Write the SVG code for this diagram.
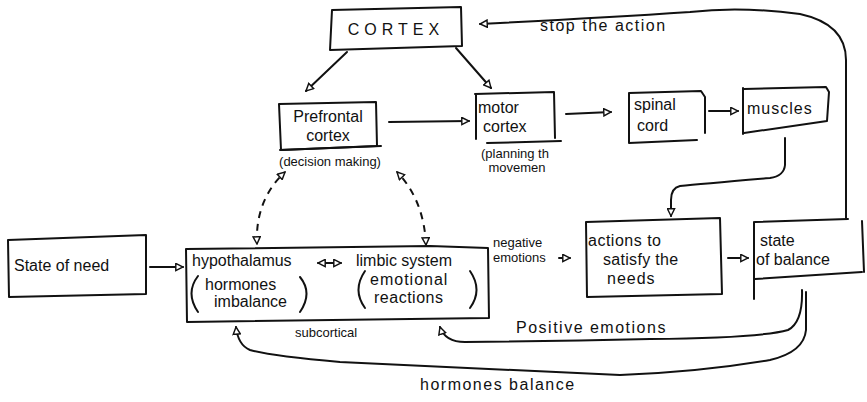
<svg xmlns="http://www.w3.org/2000/svg" width="867" height="402" viewBox="0 0 867 402">
<style>
.b{fill:none;stroke:#111;stroke-width:2;stroke-linecap:round;stroke-linejoin:round}
.c{fill:none;stroke:#111;stroke-width:2;stroke-linecap:round}
.d{fill:none;stroke:#111;stroke-width:2;stroke-dasharray:7 6}
text{font-family:"Liberation Sans","DejaVu Sans",sans-serif;fill:#111;font-size:16px}
.s{font-size:13px}
</style>
<defs>
<marker id="ah" viewBox="0 0 10 10" refX="9" refY="5" markerWidth="9" markerHeight="9" markerUnits="userSpaceOnUse" orient="auto-start-reverse">
<path d="M1,1 L9,5 L1,9 Z" fill="#fff" stroke="#111" stroke-width="1.6"/>
</marker>
</defs>
<rect width="867" height="402" fill="#fff"/>

<g id="cortex">
<path class="b" d="M332,10 L461,7 L462,46 L330,50 Z"/>
<text x="396" y="35" text-anchor="middle" font-size="22" letter-spacing="5">CORTEX</text>
</g>
<g id="prefrontal">
<path class="b" d="M279,104 L376,102 L377,146 L281,150 Z"/>
<path class="c" d="M280,150 L381,146"/>
<text x="328" y="122" text-anchor="middle">Prefrontal</text>
<text x="328" y="141" text-anchor="middle">cortex</text>
<text x="330" y="166" text-anchor="middle" class="s">(decision making)</text>
</g>
<g id="motor">
<path class="b" d="M475,94 L554,92 L555,138 M476,94 L476,139"/>
<path class="c" d="M487,143 L561,141"/>
<text x="478" y="113">motor</text>
<text x="483" y="132">cortex</text>
<text x="515" y="158" text-anchor="middle" class="s">(planning th</text>
<text x="517" y="172" text-anchor="middle" class="s">movemen</text>
</g>
<g id="spinal">
<path class="b" d="M629,93 L701,91 L705,97 L705,133 M629,93 L629,143 L697,140"/>
<text x="634" y="110">spinal</text>
<text x="637" y="131">cord</text>
</g>
<g id="muscles">
<path class="b" d="M744,89 L826,87 L829,92 L827,121 L744,133 M743,88 L743,134"/>
<text x="747" y="114" letter-spacing="1">muscles</text>
</g>
<g id="need">
<path class="b" d="M8,240 L146,235 L146,294 L9,297 Z"/>
<text x="14" y="271">State of need</text>
</g>
<g id="subcortical">
<path class="b" d="M186,249 L430,246 L488,248 L489,318 L187,322 Z"/>
<text x="192" y="266">hypothalamus</text>
<text x="205" y="290">hormones</text>
<text x="214" y="307">imbalance</text>
<path class="c" d="M198,276 Q185,293 198,312 M300,277 Q313,293 300,312"/>
<text x="356" y="266">limbic system</text>
<text x="370" y="285" letter-spacing="1">emotional</text>
<text x="374" y="303" letter-spacing="0.5">reactions</text>
<path class="c" d="M365,271 Q352,290 365,308 M470,271 Q483,290 470,308"/>
<text x="295" y="337" class="s">subcortical</text>
</g>
<g id="actions">
<path class="b" d="M586,222 L720,218 L722,294 L587,297 Z"/>
<text x="588" y="246" letter-spacing="0.5">actions to</text>
<text x="603" y="265" letter-spacing="0.3">satisfy the</text>
<text x="607" y="284" letter-spacing="1">needs</text>
</g>
<g id="balance">
<path class="b" d="M755,222 L848,219 M754,222 L754,299 M755,279 L862,272 M862,221 L864,272"/>
<text x="760" y="246">state</text>
<text x="756" y="265">of balance</text>
</g>

<g id="connectors">
<path class="c" d="M846,218 L846,60 Q846,24 800,14 Q740,6 690,12 Q600,18 480,24" marker-end="url(#ah)"/>
<text x="540" y="31" font-size="15" letter-spacing="1.5">stop the action</text>
<path class="c" d="M347,52 L306,91" marker-end="url(#ah)"/>
<path class="c" d="M456,48 L491,88" marker-end="url(#ah)"/>
<path class="c" d="M389,122 L469,121" marker-end="url(#ah)"/>
<path class="c" d="M566,114 L611,112" marker-end="url(#ah)"/>
<path class="c" d="M709,111 L738,111" marker-end="url(#ah)"/>
<path class="c" d="M785,138 L785,165 Q784,176 770,178 Q700,184 680,186 Q671,188 671,200 L671,216" marker-end="url(#ah)"/>
<path class="c" d="M150,267 L183,267" marker-end="url(#ah)"/>
<path class="c" d="M318,263 L341,263" marker-start="url(#ah)" marker-end="url(#ah)"/>
<path class="d" d="M257,244 Q255,200 285,172" marker-start="url(#ah)" marker-end="url(#ah)"/>
<path class="d" d="M426,245 Q424,200 397,172" marker-start="url(#ah)" marker-end="url(#ah)"/>
<text x="493" y="247" class="s">negative</text>
<text x="493" y="262" class="s">emotions</text>
<path class="c" d="M559,258 L570,258" marker-end="url(#ah)"/>
<path class="c" d="M728,258 L748,258" marker-end="url(#ah)"/>
<path class="c" d="M802,290 Q803,322 788,330 Q760,338 650,339 Q560,341 465,342 Q445,342 440,327" marker-end="url(#ah)"/>
<text x="516" y="333" letter-spacing="1.5">Positive emotions</text>
<path class="c" d="M806,292 L806,330 Q804,352 770,360 Q700,372 620,375 Q480,368 340,362 Q270,356 250,350 Q238,345 236,327" marker-end="url(#ah)"/>
<text x="420" y="390" letter-spacing="1.5">hormones balance</text>
</g>
</svg>
